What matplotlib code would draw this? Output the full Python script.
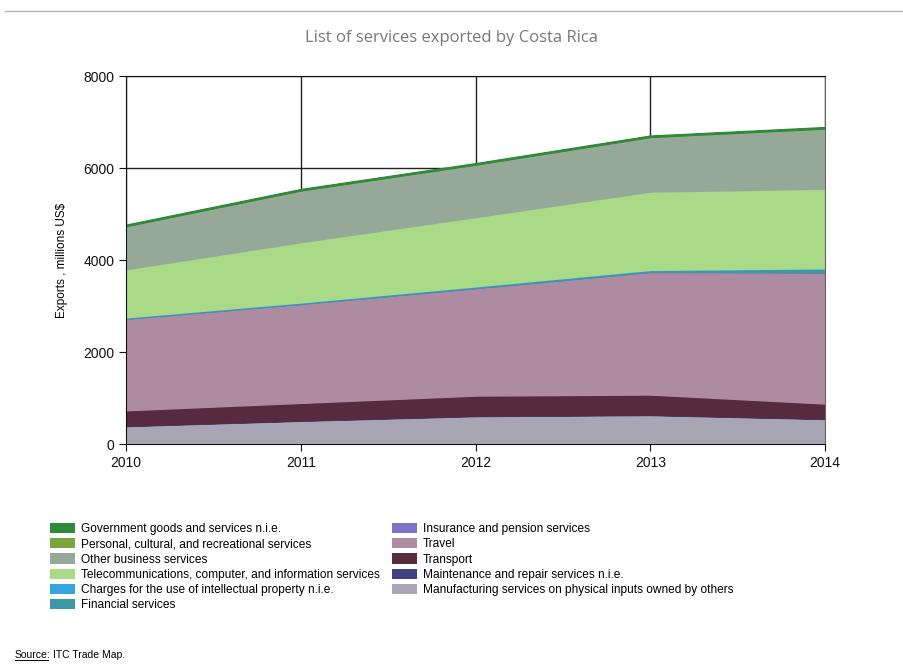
import matplotlib
matplotlib.use("Agg")
import matplotlib.pyplot as plt
from matplotlib.patches import Patch
from matplotlib.lines import Line2D

plt.rcParams['font.family'] = ['Liberation Sans', 'DejaVu Sans']

years = [2010, 2011, 2012, 2013, 2014]

# stacked from the bottom up (millions US$)
manufacturing = [390, 505, 607, 630, 545]
maintenance = [9, 10, 10, 10, 8]
transport = [334, 379, 436, 436, 327]
travel = [1990, 2150, 2335, 2665, 2850]
insurance = [5, 5, 6, 6, 6]
financial = [18, 22, 26, 30, 75]
charges = [8, 8, 9, 10, 10]
telecom = [1046, 1309, 1505, 1701, 1729]
other_business = [940, 1127, 1143, 1188, 1311]
personal = [5, 5, 5, 6, 6]
government = [15, 15, 15, 15, 15]

series = [
    ("Manufacturing services on physical inputs owned by others", manufacturing, "#a8a6b4"),
    ("Maintenance and repair services n.i.e.", maintenance, "#3e4183"),
    ("Transport", transport, "#572a3d"),
    ("Travel", travel, "#ad8ba0"),
    ("Insurance and pension services", insurance, "#7b74c9"),
    ("Financial services", financial, "#379aa6"),
    ("Charges for the use of intellectual property n.i.e.", charges, "#38a3e2"),
    ("Telecommunications, computer, and information services", telecom, "#a8da88"),
    ("Other business services", other_business, "#96a999"),
    ("Personal, cultural, and recreational services", personal, "#7ba63c"),
    ("Government goods and services n.i.e.", government, "#2f8a3b"),
]

fig = plt.figure(figsize=(9.04, 6.64), dpi=100)
ax = fig.add_axes([126 / 904, 1 - 444 / 664, (825 - 126) / 904, (444 - 76) / 664])

names = [s[0] for s in series]
values = [s[1] for s in series]
colors = [s[2] for s in series]
polys = ax.stackplot(years, values, colors=colors, zorder=2)
for p, c in zip(polys, colors):
    p.set_edgecolor(c)
    p.set_linewidth(1.0)
polys[-1].set_linewidth(1.5)

ax.set_xlim(2010, 2014)
ax.set_ylim(0, 8000)
ax.set_xticks(years)
ax.set_yticks([0, 2000, 4000, 6000, 8000])
ax.grid(True, color='#222222', linewidth=1.0, zorder=0)
ax.set_axisbelow(True)
for side in ['left', 'bottom', 'top']:
    ax.spines[side].set_color('#111111')
ax.spines['right'].set_color('#666666')
ax.tick_params(axis='both', direction='out', length=5, labelsize=10, colors='#111111')
ax.set_ylabel("Exports , millions US$", fontsize=8.5, labelpad=11)

fig.text(0.5, 1 - 38 / 664, "List of services exported by Costa Rica",
         ha='center', va='center', fontsize=12, color='#777777', family=['Open Sans', 'DejaVu Sans'])
fig.add_artist(Line2D([5 / 904, 1.0], [1 - 11 / 664, 1 - 11 / 664], color='#b8b4b0', linewidth=1))

# legend, top of stack first
handles = [Patch(facecolor=c, edgecolor='none') for c in colors[::-1]]
leg = fig.legend(handles, names[::-1], ncol=2, loc='upper left',
                 bbox_to_anchor=(45 / 904, 1 - 518 / 664), frameon=False,
                 fontsize=8.6, handlelength=2.1, handleheight=0.95,
                 labelspacing=0.25, columnspacing=1.0, handletextpad=0.5, borderaxespad=0)

fig.text(15 / 904, 1 - 655 / 664, "Source:", fontsize=7.5, va='center', ha='left')
fig.add_artist(Line2D([15 / 904, 48 / 904], [1 - 660 / 664, 1 - 660 / 664], color='black', linewidth=0.7))
fig.text(53 / 904, 1 - 655 / 664, "ITC Trade Map.", fontsize=7.5, va='center', ha='left')

fig.savefig("out.png", dpi=100)
